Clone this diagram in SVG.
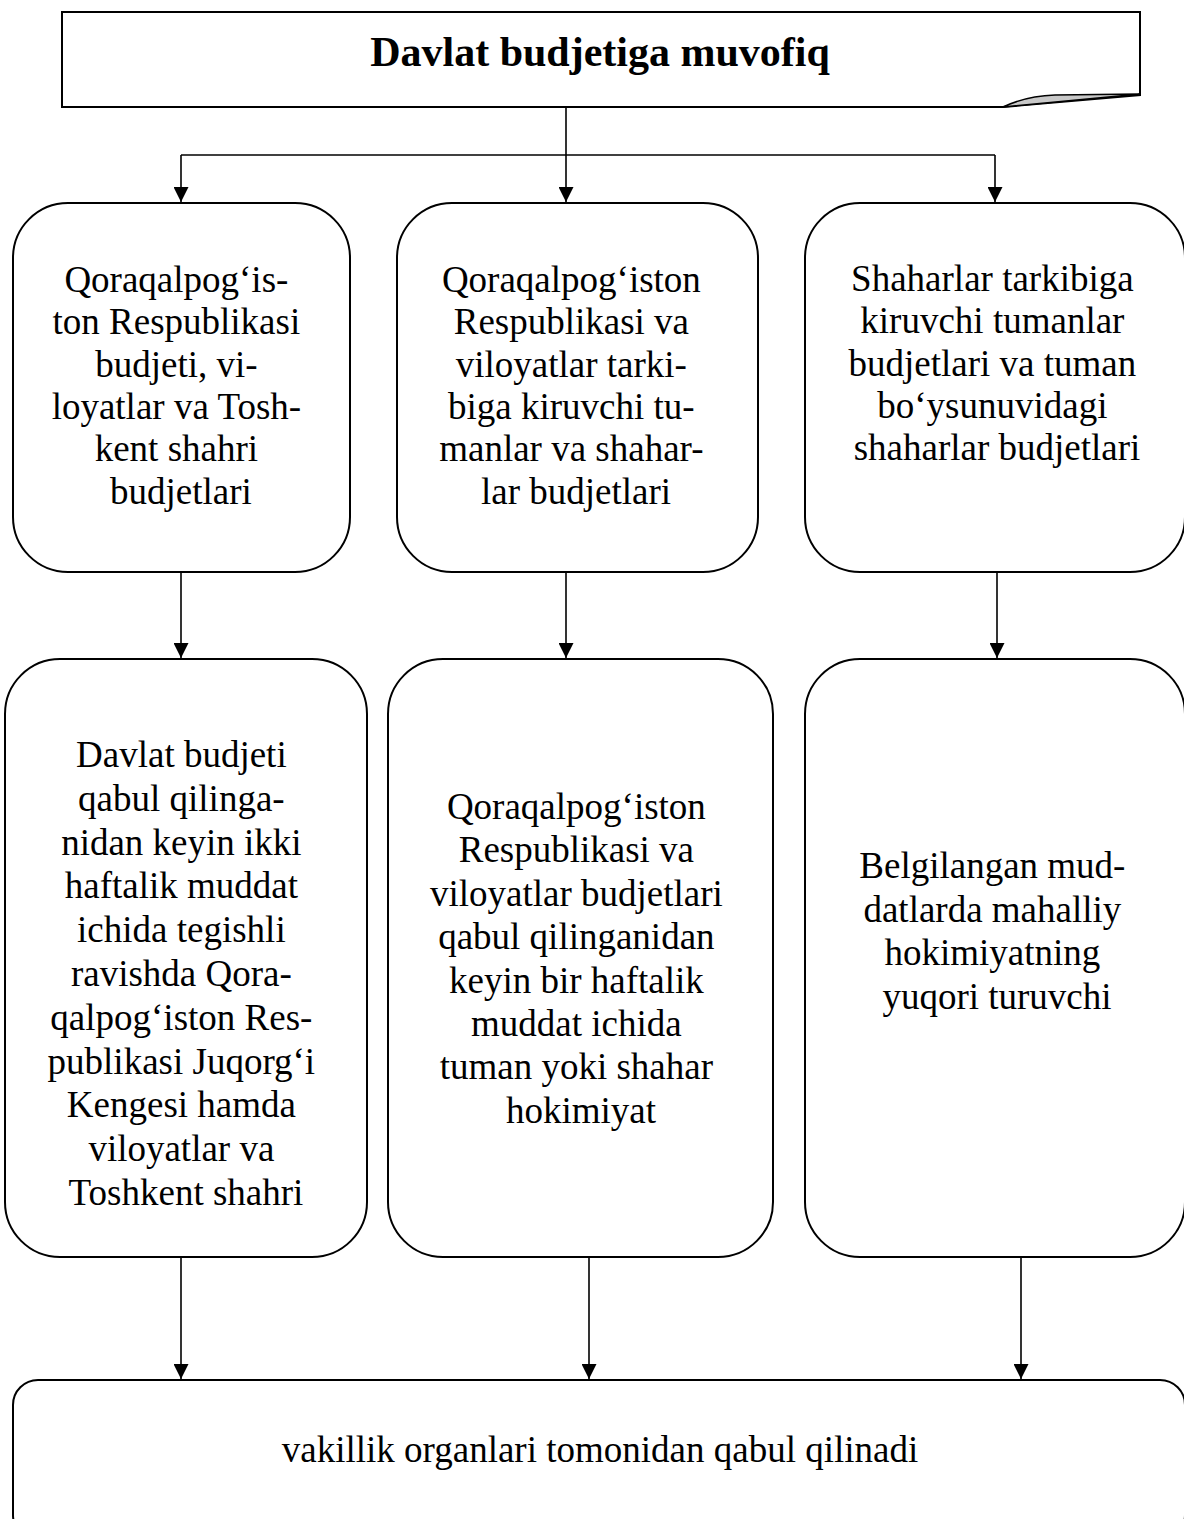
<svg xmlns="http://www.w3.org/2000/svg" width="1184" height="1519" viewBox="0 0 1184 1519">
<style>
.box{fill:#fff;stroke:#000;stroke-width:2}
.t{font-family:"Liberation Serif","Times New Roman",serif;font-size:37px;fill:#000;text-anchor:middle}
.title{font-family:"Liberation Serif","Times New Roman",serif;font-size:42px;font-weight:bold;fill:#000;text-anchor:middle}
.c{fill:none;stroke:#000;stroke-width:1.6}
</style>
<defs>
<marker id="arr" markerUnits="userSpaceOnUse" markerWidth="15" markerHeight="15" refX="15" refY="7.5" orient="auto">
<path d="M0,0 L15,7.5 L0,15 Z" fill="#000"/>
</marker>
</defs>
<rect width="1184" height="1519" fill="#fff"/>

<g id="connectors">
<path class="c" d="M566,107 V202" marker-end="url(#arr)"/>
<path class="c" d="M181,155 H995"/>
<path class="c" d="M181,155 V202" marker-end="url(#arr)"/>
<path class="c" d="M995,155 V202" marker-end="url(#arr)"/>
<path class="c" d="M181,572 V658" marker-end="url(#arr)"/>
<path class="c" d="M566,572 V658" marker-end="url(#arr)"/>
<path class="c" d="M997,572 V658" marker-end="url(#arr)"/>
<path class="c" d="M181,1257 V1379" marker-end="url(#arr)"/>
<path class="c" d="M589,1257 V1379" marker-end="url(#arr)"/>
<path class="c" d="M1021,1257 V1379" marker-end="url(#arr)"/>
</g>

<g id="title">
<path class="box" d="M62,12 H1140 V95 L1003,107 H62 Z"/>
<path d="M1003,107 Q1026,96 1055,95 L1140,94 Z" fill="#c8c8c8" stroke="#000" stroke-width="1.5"/>
<text class="title" x="600" y="66">Davlat budjetiga muvofiq</text>
</g>

<g id="n1">
<rect class="box" x="13" y="203" width="337" height="369" rx="55" ry="55"/>
<text class="t">
<tspan x="181" y="292">Qoraqalpog‘is-</tspan>
<tspan x="181" y="334.3">ton Respublikasi</tspan>
<tspan x="181" y="376.6">budjeti, vi-</tspan>
<tspan x="181" y="418.9">loyatlar va Tosh-</tspan>
<tspan x="181" y="461.2">kent shahri</tspan>
<tspan x="181" y="503.5">budjetlari</tspan>
</text>
</g>

<g id="n2">
<rect class="box" x="397" y="203" width="361" height="369" rx="55" ry="55"/>
<text class="t">
<tspan x="576" y="292">Qoraqalpog‘iston</tspan>
<tspan x="576" y="334.3">Respublikasi va</tspan>
<tspan x="576" y="376.6">viloyatlar tarki-</tspan>
<tspan x="576" y="418.9">biga kiruvchi tu-</tspan>
<tspan x="576" y="461.2">manlar va shahar-</tspan>
<tspan x="576" y="503.5">lar budjetlari</tspan>
</text>
</g>

<g id="n3">
<rect class="box" x="805" y="203" width="380" height="369" rx="55" ry="55"/>
<text class="t">
<tspan x="997" y="291">Shaharlar tarkibiga</tspan>
<tspan x="997" y="333.3">kiruvchi tumanlar</tspan>
<tspan x="997" y="375.6">budjetlari va tuman</tspan>
<tspan x="997" y="417.9">bo‘ysunuvidagi</tspan>
<tspan x="997" y="460.2">shaharlar budjetlari</tspan>
</text>
</g>

<g id="n4">
<rect class="box" x="5" y="659" width="362" height="598" rx="55" ry="55"/>
<text class="t">
<tspan x="186" y="767">Davlat budjeti</tspan>
<tspan x="186" y="810.8">qabul qilinga-</tspan>
<tspan x="186" y="854.6">nidan keyin ikki</tspan>
<tspan x="186" y="898.4">haftalik muddat</tspan>
<tspan x="186" y="942.2">ichida tegishli</tspan>
<tspan x="186" y="986">ravishda Qora-</tspan>
<tspan x="186" y="1029.8">qalpog‘iston Res-</tspan>
<tspan x="186" y="1073.6">publikasi Juqorg‘i</tspan>
<tspan x="186" y="1117.4">Kengesi hamda</tspan>
<tspan x="186" y="1161.2">viloyatlar va</tspan>
<tspan x="186" y="1205">Toshkent shahri</tspan>
</text>
</g>

<g id="n5">
<rect class="box" x="388" y="659" width="385" height="598" rx="55" ry="55"/>
<text class="t">
<tspan x="581" y="819">Qoraqalpog‘iston</tspan>
<tspan x="581" y="862.4">Respublikasi va</tspan>
<tspan x="581" y="905.8">viloyatlar budjetlari</tspan>
<tspan x="581" y="949.2">qabul qilinganidan</tspan>
<tspan x="581" y="992.6">keyin bir haftalik</tspan>
<tspan x="581" y="1036">muddat ichida</tspan>
<tspan x="581" y="1079.4">tuman yoki shahar</tspan>
<tspan x="581" y="1122.8">hokimiyat</tspan>
</text>
</g>

<g id="n6">
<rect class="box" x="805" y="659" width="380" height="598" rx="55" ry="55"/>
<text class="t">
<tspan x="997" y="878">Belgilangan mud-</tspan>
<tspan x="997" y="921.5">datlarda mahalliy</tspan>
<tspan x="997" y="965">hokimiyatning</tspan>
<tspan x="997" y="1008.5">yuqori turuvchi</tspan>
</text>
</g>

<g id="n7">
<rect class="box" x="13" y="1380" width="1172" height="160" rx="25" ry="25"/>
<text class="t" x="600" y="1462">vakillik organlari tomonidan qabul qilinadi</text>
</g>
</svg>
